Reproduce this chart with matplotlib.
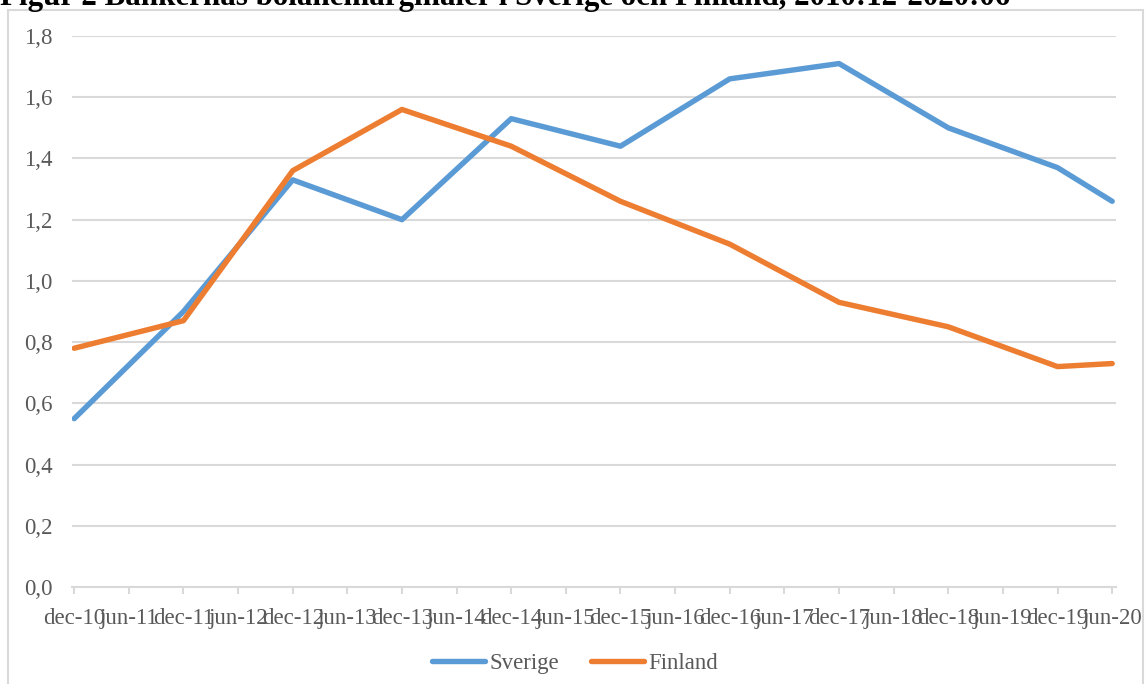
import numpy as np
import matplotlib.pyplot as plt
from matplotlib.patches import Rectangle

labels = ['dec-10', 'jun-11', 'dec-11', 'jun-12', 'dec-12', 'jun-13', 'dec-13', 'jun-14',
          'dec-14', 'jun-15', 'dec-15', 'jun-16', 'dec-16', 'jun-17', 'dec-17', 'jun-18',
          'dec-18', 'jun-19', 'dec-19', 'jun-20']
nan = np.nan
sverige = [0.55, nan, 0.90, nan, 1.33, nan, 1.20, nan, 1.53, nan, 1.44, nan,
           1.66, nan, 1.71, nan, 1.50, nan, 1.37, 1.26]
finland = [0.78, nan, 0.87, nan, 1.36, nan, 1.56, nan, 1.44, nan, 1.26, nan,
           1.12, nan, 0.93, nan, 0.85, nan, 0.72, 0.73]

grey = '#595959'
light = '#D9D9D9'
serif = 'Liberation Serif'
fs = 16.5

fig = plt.figure(figsize=(11.46, 6.84), dpi=100)
ax = fig.add_axes([72 / 1146, 97 / 684, 1044 / 1146, 551 / 684])

# outer chart frame
fig.patches.append(Rectangle((8 / 1146, -0.05), 1135 / 1146, 1.05 - 10 / 684,
                             transform=fig.transFigure, fill=False,
                             edgecolor=light, linewidth=1.5))

x = np.arange(len(labels))
for vals, name, col in [(sverige, 'Sverige', '#5B9BD5'), (finland, 'Finland', '#ED7D31')]:
    v = np.array(vals, dtype=float)
    m = ~np.isnan(v)
    ax.plot(x[m], v[m], color=col, linewidth=3.9, label=name,
            solid_capstyle='round', solid_joinstyle='round', zorder=3)

ax.set_ylim(0, 1.8)
ax.set_xlim(-0.04, 19.07)
yt = np.arange(0, 1.81, 0.2)
ax.set_yticks(yt)
ax.set_yticklabels([f'{t:.1f}'.replace('.', ',') for t in yt])
ax.set_xticks(x)
ax.set_xticklabels(labels)
ax.grid(axis='y', color=light, linewidth=1.5)
ax.set_axisbelow(True)
for s in ['top', 'right', 'left']:
    ax.spines[s].set_visible(False)
ax.spines['bottom'].set_color(light)
ax.spines['bottom'].set_linewidth(1.5)
ax.tick_params(axis='y', length=0, pad=14, labelsize=fs, labelcolor=grey)
ax.tick_params(axis='x', length=5, width=1.5, color=light, pad=10,
               labelsize=fs, labelcolor=grey)
for lab in ax.get_xticklabels() + ax.get_yticklabels():
    lab.set_fontfamily(serif)

leg = fig.legend(loc='center', bbox_to_anchor=(0.502, 0.03), ncol=2, frameon=False,
                 handlelength=2.3, handletextpad=0.2, columnspacing=1.4,
                 prop={'family': serif, 'size': fs})
for t in leg.get_texts():
    t.set_color(grey)

fig.text(0.0, 1 - 5 / 684, 'Figur 2 Bankernas bolånemarginaler i Sverige och Finland, 2010:12-2020:06',
         ha='left', va='baseline', fontsize=22.3, fontweight='bold', family=serif, color='black')

fig.savefig('out.png', dpi=100)
